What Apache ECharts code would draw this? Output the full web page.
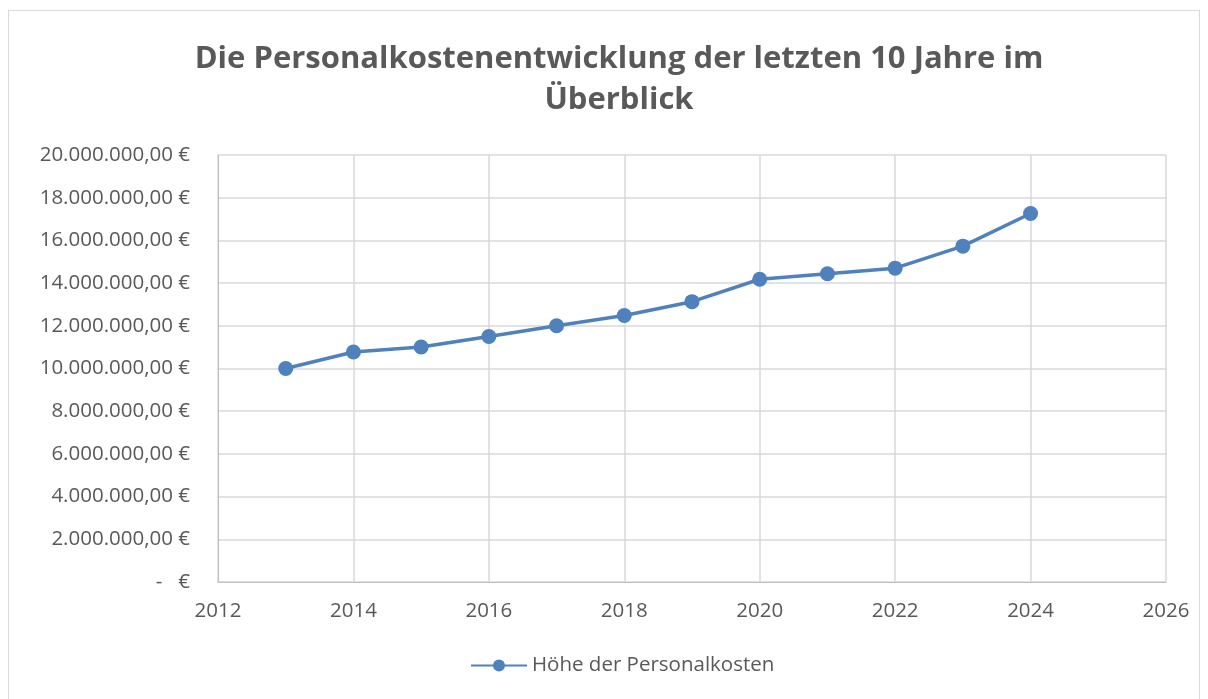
<!DOCTYPE html>
<html>
<head>
<meta charset="utf-8">
<script src="https://cdn.jsdelivr.net/npm/echarts@6/dist/echarts.min.js"></script>
<style>
    html, body { margin: 0; padding: 0; background: #fff; }
    #frame { position: absolute; left: 8px; top: 10px; width: 1192px; height: 700px; border: 1px solid #d9d9d9; box-sizing: border-box; }
    #chart { position: absolute; left: 0; top: 0; width: 1208px; height: 699px; }
</style>
</head>
<body>
<div id="frame"></div>
<div id="chart"></div>
<script>
// Jahre und Personalkosten (EUR)
const years = [2013, 2014, 2015, 2016, 2017, 2018, 2019, 2020, 2021, 2022, 2023, 2024];
const costs = [10000000, 10770000, 11010000, 11500000, 12000000, 12480000, 13130000, 14180000, 14440000, 14700000, 15730000, 17260000];
const seriesName = 'Höhe der Personalkosten';
const titleText = 'Die Personalkostenentwicklung der letzten 10 Jahre im\nÜberblick';

function formatEuro(v) {
    if (v === 0) return '-   €';
    const s = Math.round(v).toString().replace(/\B(?=(\d{3})+(?!\d))/g, '.');
    return s + ',00 €';
}

const chart = echarts.init(document.getElementById('chart'));
const textColor = '#595959';

chart.setOption({
    animation: false,
    title: {
        text: titleText,
        left: 614,
        textAlign: 'center',
        top: 34,
        textStyle: {
            fontFamily: 'Open Sans',
            fontWeight: 'bold',
            fontSize: 31,
            color: textColor,
            lineHeight: 41
        }
    },
    grid: { left: 218, right: 42, top: 155, bottom: 117 },
    legend: {
        bottom: 18,
        left: 465,
        itemWidth: 56,
        itemHeight: 15,
        itemGap: 4,
        textStyle: { fontFamily: 'Open Sans', fontSize: 20.5, color: textColor },
        data: [seriesName]
    },
    xAxis: {
        type: 'value',
        min: 2012,
        max: 2026,
        interval: 2,
        axisLine: { lineStyle: { color: '#bfbfbf', width: 1 } },
        axisTick: { show: false },
        splitLine: { show: true, lineStyle: { color: '#d9d9d9', width: 1.5 } },
        axisLabel: { color: textColor, fontFamily: 'Open Sans', fontSize: 20.5, margin: 19, formatter: v => String(v) }
    },
    yAxis: {
        type: 'value',
        min: 0,
        max: 20000000,
        interval: 2000000,
        axisLine: { show: true, lineStyle: { color: '#bfbfbf', width: 1 } },
        axisTick: { show: false },
        splitLine: { show: true, lineStyle: { color: '#d9d9d9', width: 1.5 } },
        axisLabel: { color: textColor, fontFamily: 'Open Sans', fontSize: 20.5, margin: 28, formatter: formatEuro }
    },
    series: [{
        name: seriesName,
        type: 'line',
        data: years.map((y, i) => [y, costs[i]]),
        symbol: 'circle',
        symbolSize: 15,
        lineStyle: { color: '#4f81bd', width: 3.5 },
        itemStyle: { color: '#4f81bd' }
    }]
});
</script>
</body>
</html>
